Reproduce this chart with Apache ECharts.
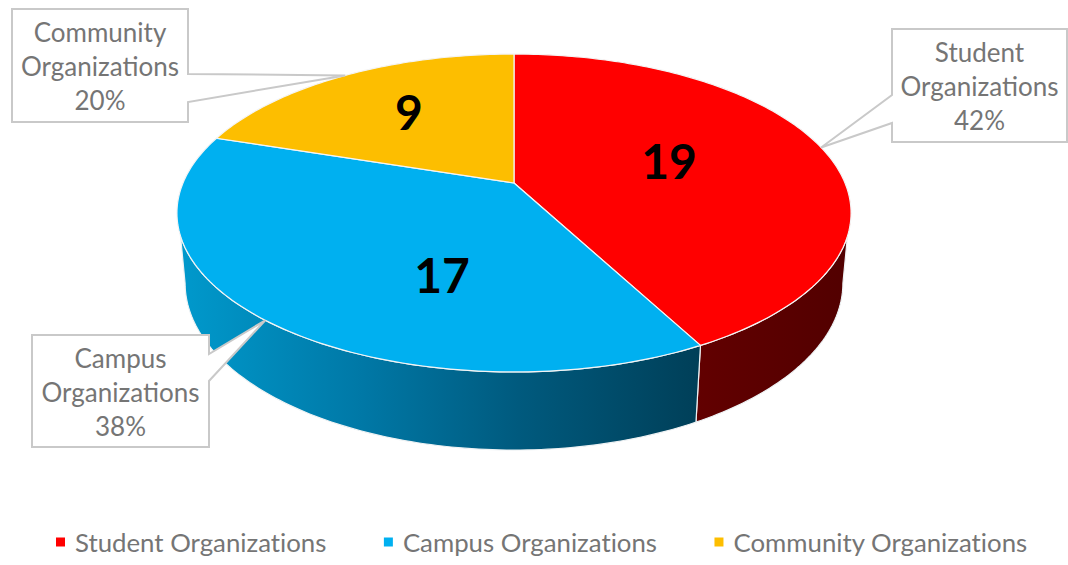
<!DOCTYPE html>
<html>
<head>
<meta charset="utf-8">
<style>
  html, body { margin: 0; padding: 0; background: #fff; }
  #main { width: 1068px; height: 565px; }
  #main text { font-variant-ligatures: none; }
</style>
<script src="https://cdn.jsdelivr.net/npm/echarts@6/dist/echarts.min.js"></script>
</head>
<body>
<div id="main"></div>
<script>
var names = ['Student Organizations', 'Campus Organizations', 'Community Organizations'];
var values = [19, 17, 9];
var colors = ['#FF0000', '#00B0F0', '#FDBE00'];

// side wall shading, left to right
var wallStops = [
    [[0, '#620000'], [1, '#520000']],
    [[0, '#0099CC'], [0.35, '#0078A6'], [0.65, '#005A7E'], [1, '#003F58']],
    [[0, '#806000'], [1, '#806000']]
];

// perspective of the pie: top disc and the narrower bottom disc
var CX = 514, K = 0.1887;
var topDisc = { a: 331, b: 153.3, cy: 183 };
var lowDisc = { a: 323, b: 161, cy: 251.6 };
var WALL_TOP = 109, WALL_LOW = 100.9; // degrees where the wall comes into view

// callout boxes and number labels, by slice
var boxes = [
    { x: 892, y: 29, w: 175, h: 113, side: 'left', p1: 95, p2: 123 },
    { x: 32, y: 335, w: 177, h: 112, side: 'right', p1: 354, p2: 381 },
    { x: 12, y: 9, w: 176, h: 113, side: 'right', p1: 74, p2: 102 }
];
var numberPos = [[669, 160], [442, 274], [409, 111]];

var total = values.reduce(function (a, b) { return a + b; }, 0);

function angles(i) {
    var before = 0;
    for (var n = 0; n < i; n++) before += values[n];
    return [before / total * 360, (before + values[i]) / total * 360];
}

function pt(deg, disc) {
    var t = deg * Math.PI / 180;
    var u = Math.sin(t), v = -Math.cos(t), w = 1 - K * v;
    return [CX + disc.a * u / w, disc.cy + disc.b * v / w];
}

function arc(from, to, disc) {
    var pts = [];
    var dir = to > from ? 1 : -1;
    for (var d = from; dir * (to - d) > 0; d += dir) pts.push(pt(d, disc));
    pts.push(pt(to, disc));
    return pts;
}

function renderSlice(params, api) {
    var i = params.seriesIndex;
    var a = angles(i);
    var children = [];

    var topFrom = Math.max(a[0], WALL_TOP), topTo = Math.min(a[1], 360 - WALL_TOP);
    if (topFrom < topTo) {
        var lowFrom = a[0] <= WALL_TOP ? Math.max(a[0], WALL_LOW) : a[0];
        var lowTo = a[1] >= 360 - WALL_TOP ? Math.min(a[1], 360 - WALL_LOW) : a[1];
        var wall = arc(topFrom, topTo, topDisc).concat(arc(lowTo, lowFrom, lowDisc));
        var xs = wall.map(function (p) { return p[0]; });
        var stops = wallStops[i].map(function (s) { return { offset: s[0], color: s[1] }; });
        children.push({
            type: 'polygon',
            shape: { points: wall },
            style: {
                fill: new echarts.graphic.LinearGradient(Math.min.apply(null, xs), 0, Math.max.apply(null, xs), 0, stops, true),
                stroke: '#eef2f4',
                lineWidth: 1.2
            }
        });
    }
    children.push({
        type: 'polygon',
        shape: { points: [[CX, topDisc.cy]].concat(arc(a[0], a[1], topDisc)) },
        style: { fill: colors[i], stroke: '#f4f4f4', lineWidth: 1.2 },
        z2: 2
    });
    return { type: 'group', children: children };
}

function renderLabel(params, api) {
    var i = params.dataIndex;
    var a = angles(i);
    var b = boxes[i];
    var tip = pt((a[0] + a[1]) / 2, topDisc);
    var r = b.x + b.w, btm = b.y + b.h;
    var outline = b.side === 'left'
        ? [[b.x, b.y], [r, b.y], [r, btm], [b.x, btm], [b.x, b.p2], tip, [b.x, b.p1]]
        : [[b.x, b.y], [r, b.y], [r, b.p1], tip, [r, b.p2], [r, btm], [b.x, btm]];
    var parts = names[i].split(' ');
    var pct = Math.round(api.value(0) / total * 100) + '%';
    var lines = [parts[0], parts[1], pct];
    var children = [{
        type: 'polygon',
        shape: { points: outline },
        style: { fill: '#fff', stroke: '#c9c9c9', lineWidth: 2 }
    }];
    lines.forEach(function (t, n) {
        children.push({
            type: 'text',
            style: {
                text: t, x: b.x + b.w / 2, y: b.y + 23 + n * 34,
                fill: '#757575', font: '26px Lato', align: 'center', verticalAlign: 'middle'
            },
            z2: 2
        });
    });
    children.push({
        type: 'text',
        style: {
            text: String(api.value(0)), x: numberPos[i][0], y: numberPos[i][1],
            fill: '#000', font: 'bold 48px Lato', align: 'center', verticalAlign: 'middle'
        },
        z2: 2
    });
    return { type: 'group', children: children };
}

var series = names.map(function (name, i) {
    return {
        name: name,
        type: 'custom',
        coordinateSystem: 'none',
        renderItem: renderSlice,
        itemStyle: { color: colors[i] },
        data: [[values[i]]],
        z: 2
    };
});
series.push({
    name: 'labels',
    type: 'custom',
    coordinateSystem: 'none',
    renderItem: renderLabel,
    data: values.map(function (v) { return [v]; }),
    z: 3
});

var option = {
    animation: false,
    backgroundColor: '#fff',
    legend: {
        data: names,
        left: 56,
        top: 529,
        padding: 0,
        icon: 'rect',
        itemWidth: 9,
        itemHeight: 9,
        itemGap: 57,
        textStyle: { color: '#757575', fontFamily: 'Lato', fontSize: 25.8, padding: [0, 0, 0, 5] }
    },
    series: series
};

var chart = echarts.init(document.getElementById('main'), null, { renderer: 'svg' });
chart.setOption(option);
</script>
</body>
</html>
